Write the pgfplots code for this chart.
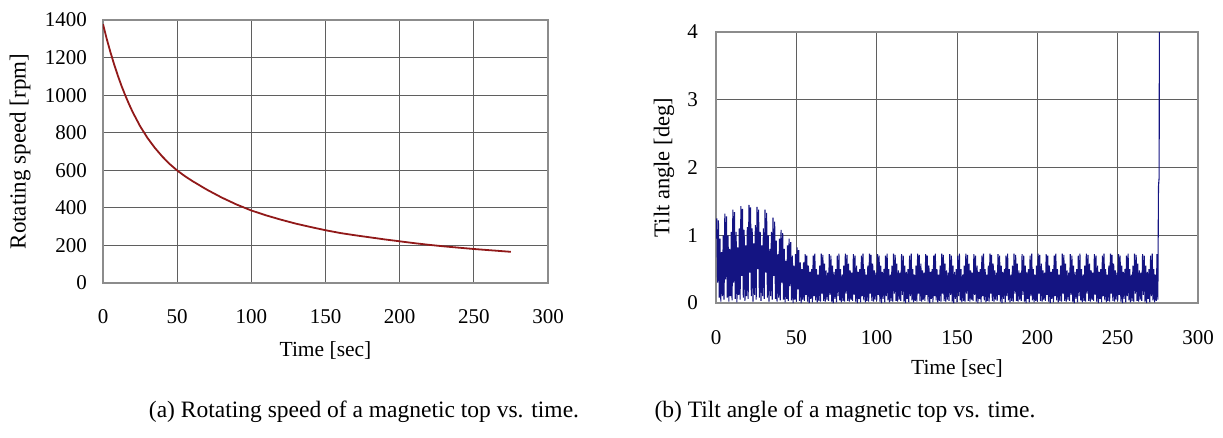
\documentclass[border=0pt]{standalone}
\usepackage{fontspec}
\setmainfont{Liberation Serif}
\usepackage{pgfplots}
\pgfplotsset{compat=1.18}
\definecolor{gridc}{RGB}{95,95,95}
\definecolor{framec}{RGB}{140,140,140}
\definecolor{redc}{RGB}{145,25,25}
\definecolor{bluec}{RGB}{20,20,130}
\begin{document}
\begin{tikzpicture}
\path[use as bounding box] (0pt,0pt) rectangle (1223pt,-437pt);
\pgfplotsset{every axis/.append style={
  scale only axis, anchor=south west,
  axis line style={framec, line width=1.2pt},
  grid=major, major grid style={gridc, line width=0.9pt},
  major tick length=0pt,
  tick label style={font=\fontsize{21}{23}\selectfont},
  /pgf/number format/assume math mode=true,
  /pgf/number format/1000 sep={},
  xmin=0, xmax=300, xtick={0,50,...,300},
}}
% ---------------- left: rotating speed ----------------
\begin{axis}[
  at={(103pt,-283pt)}, width=445pt, height=263pt,
  ymin=0, ymax=1400, ytick={0,200,...,1400},
  xticklabel style={anchor=center, yshift=-34pt},
  yticklabel style={anchor=east, inner sep=0pt, xshift=-16pt},
  xlabel={Time [sec]},
  xlabel style={at={(axis description cs:0.5,0)}, anchor=center, yshift=-67pt, font=\fontsize{21.5}{23}\selectfont},
  ylabel={Rotating speed [rpm]},
  ylabel style={at={(axis description cs:-0.1865,0.5)}, anchor=center, font=\fontsize{23}{25}\selectfont},
]
\addplot[redc, line width=1.8pt] coordinates {
(0,1378)(2.5,1300)(5,1229)(7.5,1164)(10,1104)(12.5,1049)(15,999)(17.5,953)(20,910)(25,835)(30,772)(35,719)(40,673)(45,633)(50,599)(55,570)(60,544)(70,497)(80,455)(90,418)(100,386)(110,360)(120,337)(130,316)(140,298)(150,281)(160,266)(170,254)(180,243)(190,232)(200,222)(210,212)(220,203)(230,195)(240,188)(250,181)(260,175)(270,169)(275,166)
};
\end{axis}
% ---------------- right: tilt angle ----------------
\begin{axis}[
  at={(716pt,-303pt)}, width=482pt, height=271pt,
  ymin=0, ymax=4, ytick={0,1,2,3,4},
  xticklabel style={anchor=center, yshift=-35pt},
  yticklabel style={anchor=east, inner sep=0pt, xshift=-18pt},
  xlabel={Time [sec]},
  xlabel style={at={(axis description cs:0.5,0)}, anchor=center, yshift=-65pt, font=\fontsize{21.5}{23}\selectfont},
  ylabel={Tilt angle [deg]},
  ylabel style={at={(axis description cs:-0.108,0.5)}, anchor=center, font=\fontsize{22.5}{24}\selectfont},
]
\addplot[bluec, line width=1.1pt] coordinates {
(0,0.95)(0.5,1.25)(1,0.30)(1.5,1.22)(2,0.08)(2.5,0.95)(3,0.02)(3.5,0.75)(4,0.10)(4.5,1.00)
(5,0.05)(5.5,1.32)(6,0.35)(6.5,1.28)(7,0.08)(7.5,1.00)(8,0.02)(8.5,0.80)(9,0.10)(9.5,1.05)
(10,0.04)(10.5,1.38)(11,0.30)(11.5,1.34)(12,0.06)(12.5,1.05)(13,0.01)(13.5,0.82)(14,0.12)(14.5,1.10)
(15,0.05)(15.5,1.43)(16,0.40)(16.5,1.39)(17,0.08)(17.5,1.08)(18,0.03)(18.5,0.85)(19,0.10)(19.5,1.12)
(20,0.06)(20.5,1.45)(21,0.45)(21.5,1.41)(22,0.10)(22.5,1.10)(23,0.02)(23.5,0.88)(24,0.12)(24.5,1.15)
(25,0.05)(25.5,1.42)(26,0.50)(26.5,1.38)(27,0.08)(27.5,1.05)(28,0.03)(28.5,0.85)(29,0.10)(29.5,1.10)
(30,0.06)(30.5,1.38)(31,0.45)(31.5,1.33)(32,0.08)(32.5,1.00)(33,0.02)(33.5,0.80)(34,0.10)(34.5,1.05)
(35,0.05)(35.5,1.26)(36,0.40)(36.5,1.20)(37,0.06)(37.5,0.92)(38,0.02)(38.5,0.72)(39,0.08)(39.5,0.95)
(40,0.04)(40.5,1.08)(41,0.30)(41.5,1.03)(42,0.05)(42.5,0.80)(43,0.01)(43.5,0.62)(44,0.06)(44.5,0.85)
(45,0.03)(45.5,0.95)(46,0.25)(46.5,0.90)(47,0.04)(47.5,0.70)(48,0.00)(48.5,0.55)(49,0.05)(49.5,0.72)
(50,0.02)(50.5,0.82)(51,0.20)(51.5,0.78)(52,0.03)(52.5,0.60)(53,0.00)(53.5,0.50)(54,0.05)(54.5,0.60)
(55,0.03)(55.5,0.72)(56,0.12)(56.5,0.70)(57,0.02)(57.5,0.55)(58,0.00)(58.5,0.46)(59,0.06)(59.5,0.50)
(60,0.01)(60.5,0.70)(61,0.10)(61.5,0.73)(62,0.04)(62.5,0.50)(63,0.01)(63.5,0.42)(64,0.03)(64.5,0.55)
(65,0.02)(65.5,0.73)(66,0.14)(66.5,0.71)(67,0.03)(67.5,0.58)(68,0.02)(68.5,0.48)(69,0.05)(69.5,0.45)
(70,0.03)(70.5,0.72)(71,0.12)(71.5,0.70)(72,0.02)(72.5,0.55)(73,0.00)(73.5,0.46)(74,0.06)(74.5,0.50)
(75,0.01)(75.5,0.70)(76,0.10)(76.5,0.73)(77,0.04)(77.5,0.50)(78,0.01)(78.5,0.42)(79,0.03)(79.5,0.55)
(80,0.02)(80.5,0.73)(81,0.14)(81.5,0.71)(82,0.03)(82.5,0.58)(83,0.02)(83.5,0.48)(84,0.05)(84.5,0.45)
(85,0.03)(85.5,0.72)(86,0.12)(86.5,0.70)(87,0.02)(87.5,0.55)(88,0.00)(88.5,0.46)(89,0.06)(89.5,0.50)
(90,0.01)(90.5,0.70)(91,0.10)(91.5,0.73)(92,0.04)(92.5,0.50)(93,0.01)(93.5,0.42)(94,0.03)(94.5,0.55)
(95,0.02)(95.5,0.73)(96,0.14)(96.5,0.71)(97,0.03)(97.5,0.58)(98,0.02)(98.5,0.48)(99,0.05)(99.5,0.45)
(100,0.03)(100.5,0.72)(101,0.12)(101.5,0.70)(102,0.02)(102.5,0.55)(103,0.00)(103.5,0.46)(104,0.06)(104.5,0.50)
(105,0.01)(105.5,0.70)(106,0.10)(106.5,0.73)(107,0.04)(107.5,0.50)(108,0.01)(108.5,0.42)(109,0.03)(109.5,0.55)
(110,0.02)(110.5,0.73)(111,0.14)(111.5,0.71)(112,0.03)(112.5,0.58)(113,0.02)(113.5,0.48)(114,0.05)(114.5,0.45)
(115,0.03)(115.5,0.72)(116,0.12)(116.5,0.70)(117,0.02)(117.5,0.55)(118,0.00)(118.5,0.46)(119,0.06)(119.5,0.50)
(120,0.01)(120.5,0.70)(121,0.10)(121.5,0.73)(122,0.04)(122.5,0.50)(123,0.01)(123.5,0.42)(124,0.03)(124.5,0.55)
(125,0.02)(125.5,0.73)(126,0.14)(126.5,0.71)(127,0.03)(127.5,0.58)(128,0.02)(128.5,0.48)(129,0.05)(129.5,0.45)
(130,0.03)(130.5,0.72)(131,0.12)(131.5,0.70)(132,0.02)(132.5,0.55)(133,0.00)(133.5,0.46)(134,0.06)(134.5,0.50)
(135,0.01)(135.5,0.70)(136,0.10)(136.5,0.73)(137,0.04)(137.5,0.50)(138,0.01)(138.5,0.42)(139,0.03)(139.5,0.55)
(140,0.02)(140.5,0.73)(141,0.14)(141.5,0.71)(142,0.03)(142.5,0.58)(143,0.02)(143.5,0.48)(144,0.05)(144.5,0.45)
(145,0.03)(145.5,0.72)(146,0.12)(146.5,0.70)(147,0.02)(147.5,0.55)(148,0.00)(148.5,0.46)(149,0.06)(149.5,0.50)
(150,0.01)(150.5,0.70)(151,0.10)(151.5,0.73)(152,0.04)(152.5,0.50)(153,0.01)(153.5,0.42)(154,0.03)(154.5,0.55)
(155,0.02)(155.5,0.73)(156,0.14)(156.5,0.71)(157,0.03)(157.5,0.58)(158,0.02)(158.5,0.48)(159,0.05)(159.5,0.45)
(160,0.03)(160.5,0.72)(161,0.12)(161.5,0.70)(162,0.02)(162.5,0.55)(163,0.00)(163.5,0.46)(164,0.06)(164.5,0.50)
(165,0.01)(165.5,0.70)(166,0.10)(166.5,0.73)(167,0.04)(167.5,0.50)(168,0.01)(168.5,0.42)(169,0.03)(169.5,0.55)
(170,0.02)(170.5,0.73)(171,0.14)(171.5,0.71)(172,0.03)(172.5,0.58)(173,0.02)(173.5,0.48)(174,0.05)(174.5,0.45)
(175,0.03)(175.5,0.72)(176,0.12)(176.5,0.70)(177,0.02)(177.5,0.55)(178,0.00)(178.5,0.46)(179,0.06)(179.5,0.50)
(180,0.01)(180.5,0.70)(181,0.10)(181.5,0.73)(182,0.04)(182.5,0.50)(183,0.01)(183.5,0.42)(184,0.03)(184.5,0.55)
(185,0.02)(185.5,0.73)(186,0.14)(186.5,0.71)(187,0.03)(187.5,0.58)(188,0.02)(188.5,0.48)(189,0.05)(189.5,0.45)
(190,0.03)(190.5,0.72)(191,0.12)(191.5,0.70)(192,0.02)(192.5,0.55)(193,0.00)(193.5,0.46)(194,0.06)(194.5,0.50)
(195,0.01)(195.5,0.70)(196,0.10)(196.5,0.73)(197,0.04)(197.5,0.50)(198,0.01)(198.5,0.42)(199,0.03)(199.5,0.55)
(200,0.02)(200.5,0.73)(201,0.14)(201.5,0.71)(202,0.03)(202.5,0.58)(203,0.02)(203.5,0.48)(204,0.05)(204.5,0.45)
(205,0.03)(205.5,0.72)(206,0.12)(206.5,0.70)(207,0.02)(207.5,0.55)(208,0.00)(208.5,0.46)(209,0.06)(209.5,0.50)
(210,0.01)(210.5,0.70)(211,0.10)(211.5,0.73)(212,0.04)(212.5,0.50)(213,0.01)(213.5,0.42)(214,0.03)(214.5,0.55)
(215,0.02)(215.5,0.73)(216,0.14)(216.5,0.71)(217,0.03)(217.5,0.58)(218,0.02)(218.5,0.48)(219,0.05)(219.5,0.45)
(220,0.03)(220.5,0.72)(221,0.12)(221.5,0.70)(222,0.02)(222.5,0.55)(223,0.00)(223.5,0.46)(224,0.06)(224.5,0.50)
(225,0.01)(225.5,0.70)(226,0.10)(226.5,0.73)(227,0.04)(227.5,0.50)(228,0.01)(228.5,0.42)(229,0.03)(229.5,0.55)
(230,0.02)(230.5,0.73)(231,0.14)(231.5,0.71)(232,0.03)(232.5,0.58)(233,0.02)(233.5,0.48)(234,0.05)(234.5,0.45)
(235,0.03)(235.5,0.72)(236,0.12)(236.5,0.70)(237,0.02)(237.5,0.55)(238,0.00)(238.5,0.46)(239,0.06)(239.5,0.50)
(240,0.01)(240.5,0.70)(241,0.10)(241.5,0.73)(242,0.04)(242.5,0.50)(243,0.01)(243.5,0.42)(244,0.03)(244.5,0.55)
(245,0.02)(245.5,0.73)(246,0.14)(246.5,0.71)(247,0.03)(247.5,0.58)(248,0.02)(248.5,0.48)(249,0.05)(249.5,0.45)
(250,0.03)(250.5,0.72)(251,0.12)(251.5,0.70)(252,0.02)(252.5,0.55)(253,0.00)(253.5,0.46)(254,0.06)(254.5,0.50)
(255,0.01)(255.5,0.70)(256,0.10)(256.5,0.73)(257,0.04)(257.5,0.50)(258,0.01)(258.5,0.42)(259,0.03)(259.5,0.55)
(260,0.02)(260.5,0.73)(261,0.14)(261.5,0.71)(262,0.03)(262.5,0.58)(263,0.02)(263.5,0.48)(264,0.05)(264.5,0.45)
(265,0.03)(265.5,0.72)(266,0.12)(266.5,0.70)(267,0.02)(267.5,0.55)(268,0.00)(268.5,0.46)(269,0.06)(269.5,0.50)
(270,0.01)(270.5,0.70)(271,0.10)(271.5,0.73)(272,0.04)(272.5,0.50)(273,0.01)(273.5,0.42)(274,0.03)(274.5,0.72)
(275,0.05)(275.4,1.72)(275.8,1.85)(276,4.5)
};
\end{axis}
% ---------------- captions ----------------
\node[font=\fontsize{23.5}{25}\selectfont, anchor=center] at (364pt,-412pt) {(a) Rotating speed of a magnetic top vs. time.};
\node[font=\fontsize{23.5}{25}\selectfont, anchor=center] at (845pt,-412pt) {(b) Tilt angle of a magnetic top vs. time.};
\end{tikzpicture}
\end{document}
